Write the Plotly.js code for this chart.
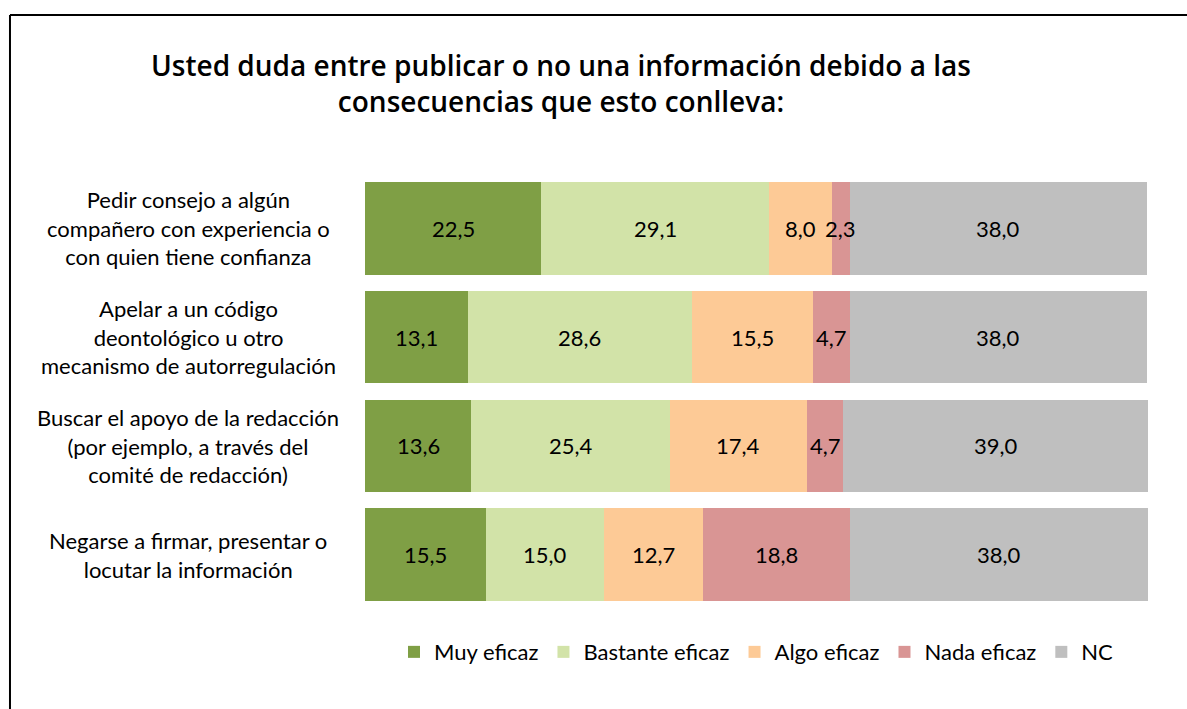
<!DOCTYPE html>
<html>
<head>
<meta charset="utf-8">
<script src="https://cdn.plot.ly/plotly-3.0.1.min.js"></script>
<style>
html,body{margin:0;padding:0;background:#fff;}
#chart{width:1187px;height:709px;}
</style>
</head>
<body>
<div id="chart"></div>
<script>
const categories = [
  "Pedir consejo a algún<br>compañero con experiencia o<br>con quien tiene confianza",
  "Apelar a un código<br>deontológico u otro<br>mecanismo de autorregulación",
  "Buscar el apoyo de la redacción<br>(por ejemplo, a través del<br>comité de redacción)",
  "Negarse a firmar, presentar o<br>locutar la información"
];
const catKeys = ["c1", "c2", "c3", "c4"];
const seriesNames = ["Muy eficaz", "Bastante eficaz", "Algo eficaz", "Nada eficaz", "NC"];
const muyEficaz = [22.5, 13.1, 13.6, 15.5];
const bastanteEficaz = [29.1, 28.6, 25.4, 15.0];
const algoEficaz = [8.0, 15.5, 17.4, 12.7];
const nadaEficaz = [2.3, 4.7, 4.7, 18.8];
const nc = [38.0, 38.0, 39.0, 38.0];
const colors = ["#7f9f45", "#d2e3a8", "#fdca96", "#d99594", "#bfbfbf"];
const titleText = "Usted duda entre publicar o no una información debido a las<br>consecuencias que esto conlleva:";

const seriesValues = [muyEficaz, bastanteEficaz, algoEficaz, nadaEficaz, nc];
const FONT = "Lato, 'Open Sans', sans-serif";
const TFONT = "'Open Sans', Lato, sans-serif";

const traces = seriesValues.map((vals, j) => ({
  type: "bar",
  orientation: "h",
  name: seriesNames[j],
  y: catKeys,
  x: vals,
  marker: {color: colors[j], line: {width: 0}},
  hoverinfo: "x+name"
}));

const annotations = [];
// category labels
catKeys.forEach((k, i) => {
  annotations.push({
    xref: "paper", yref: "y", x: -0.226, y: k,
    text: categories[i], showarrow: false, align: "center",
    xanchor: "center", yanchor: "middle",
    font: {family: FONT, size: 22, color: "#000"}
  });
});
// value labels
catKeys.forEach((k, i) => {
  let cum = 0;
  seriesValues.forEach((vals) => {
    const v = vals[i];
    annotations.push({
      xref: "x", yref: "y", x: cum + v / 2, y: k,
      text: v.toFixed(1).replace(".", ","), showarrow: false,
      xanchor: "center", yanchor: "middle",
      font: {family: FONT, size: 22, color: "#000"}
    });
    cum += v;
  });
});

const layout = {
  width: 1187, height: 709,
  margin: {l: 365, r: 39, t: 174, b: 100, pad: 0},
  paper_bgcolor: "#fff", plot_bgcolor: "#fff",
  barmode: "stack", bargap: 0.15,
  showlegend: true,
  title: {
    text: titleText, xref: "container", x: 0.4726, xanchor: "center",
    yref: "container", y: 1 - 76 / 709, yanchor: "top",
    font: {family: TFONT, size: 28, weight: 600, color: "#000"}
  },
  xaxis: {range: [0, 100], visible: false, fixedrange: true},
  yaxis: {
    type: "category", categoryorder: "array", categoryarray: catKeys,
    range: [3.5, -0.5], showticklabels: false, showgrid: false,
    zeroline: false, showline: false, ticks: "", fixedrange: true
  },
  legend: {
    orientation: "h", x: 0.5, xanchor: "center", y: -0.099, yanchor: "middle",
    font: {family: FONT, size: 22, color: "#000"}, traceorder: "normal",
    itemclick: false, itemdoubleclick: false
  },
  annotations: annotations,
  shapes: [
    {type: "line", xref: "paper", yref: "paper", x0: -0.4534, x1: 1.06, y0: 1.3655, y1: 1.3655, line: {color: "#000", width: 2}},
    {type: "line", xref: "paper", yref: "paper", x0: -0.4534, x1: -0.4534, y0: 1.3655, y1: -0.25, line: {color: "#000", width: 2}}
  ],
  font: {family: FONT}
};

Plotly.newPlot("chart", traces, layout, {displayModeBar: false, staticPlot: false});
</script>
</body>
</html>
